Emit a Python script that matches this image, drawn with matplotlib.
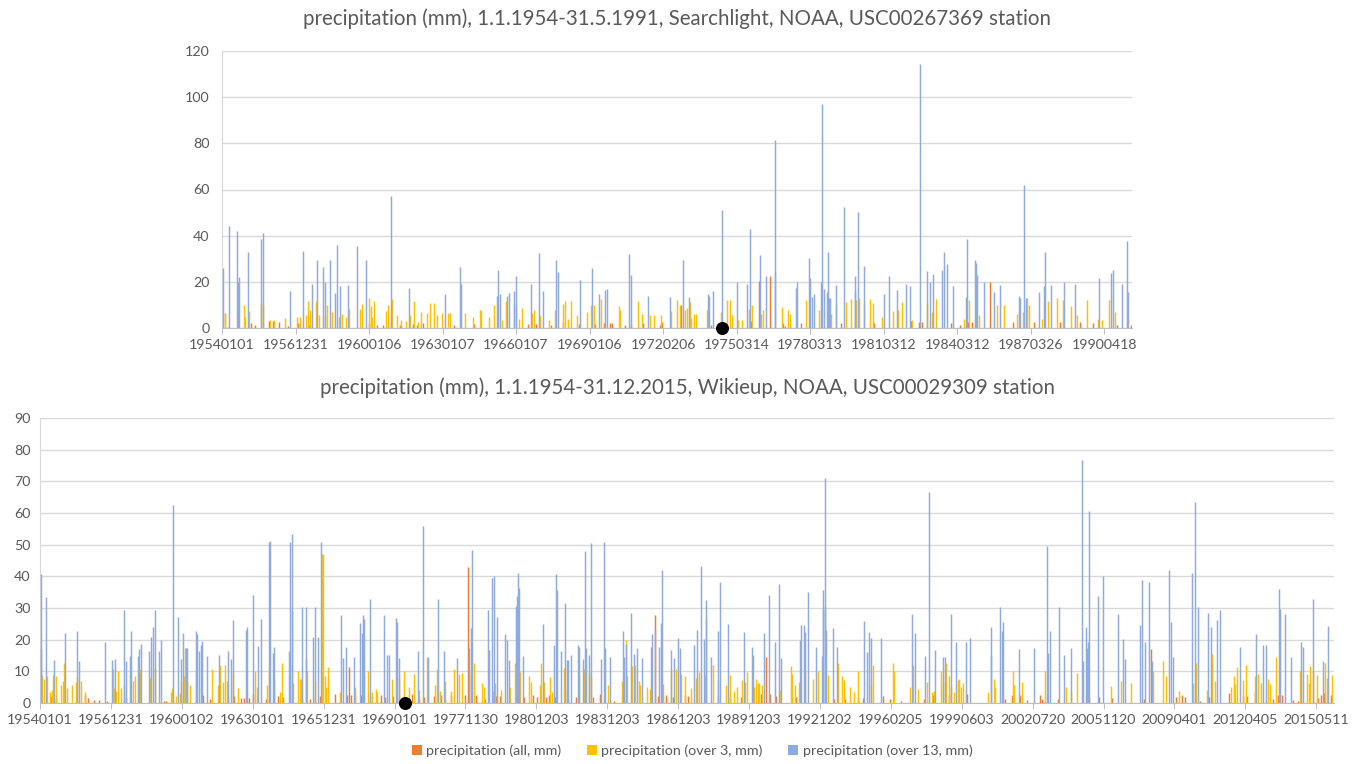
import matplotlib
matplotlib.use('Agg')
import matplotlib.pyplot as plt
from matplotlib.patches import Patch

plt.rcParams['font.family'] = ['Lato', 'DejaVu Sans']

# ---------------- data: (rainy-day index, mm) ----------------
# Searchlight (top chart)
sl_labels = ['19540101', '19561231', '19600106', '19630107', '19660107', '19690106', '19720206',
             '19750314', '19780313', '19810312', '19840312', '19870326', '19900418']
sl_n_days = 1238
sl_over13 = [(1, 26), (9, 44), (20, 42), (21, 20), (23, 22), (35, 33), (52, 38.5), (55, 41), (92, 16), (110, 33.5),
             (122, 19), (128, 29.6), (137, 26.3), (140, 20), (146, 29.6), (153, 15), (156, 36), (160, 18), (170, 18.7),
             (183, 35.4), (195, 29.6), (229, 57), (254, 17.4), (303, 14.8), (323, 26.3), (325, 19), (373, 14),
             (375, 25.3), (377, 14.8), (387, 13.8), (389, 15), (396, 16), (399, 22.7), (419, 19), (430, 32.5),
             (436, 16), (454, 29.3), (456, 24.4), (486, 21), (503, 26), (512, 14.7), (520, 16.5), (523, 17),
             (553, 32), (555, 23), (579, 14), (608, 13.4), (627, 29.3), (634, 13.4), (660, 14.8), (662, 14),
             (667, 16), (680, 51), (700, 20), (714, 19), (717, 43), (731, 31.8), (739, 22.7), (751, 81.5),
             (752, 24.4), (780, 17.4), (782, 20), (798, 30.5), (799, 21.6), (802, 13.4), (804, 14.8), (814, 20),
             (816, 97), (818, 17), (822, 15.5), (824, 32.9), (825, 13.2), (826, 13.2), (834, 18.7), (846, 52.5),
             (860, 22.7), (861, 16), (865, 50.2), (872, 26.7), (900, 14.8), (907, 22.7), (917, 16.5), (930, 19),
             (935, 18), (949, 114.4), (958, 24.6), (963, 20), (967, 23.6), (979, 25.3), (982, 32.9), (986, 27.7),
             (994, 18), (1012, 13.4), (1013, 38.5), (1023, 29.6), (1025, 28), (1027, 23), (1036, 20), (1050, 15.5),
             (1057, 18.7), (1084, 14), (1085, 13.2), (1090, 62), (1093, 13.2), (1110, 15.5), (1118, 18.4),
             (1119, 32.9), (1127, 18.7), (1145, 20), (1159, 19), (1192, 21.6), (1209, 23.7), (1212, 25.3),
             (1224, 19), (1230, 37.8), (1232, 15.5)]
sl_over3 = [(3, 6.5), (4, 6.5), (29, 10), (31, 4.6), (36, 7.2), (53, 11), (55, 9.5), (65, 3.3), (70, 3.3), (85, 4.5),
            (102, 4.6), (105, 4.7), (114, 5.8), (116, 11.5), (119, 8), (127, 11.5), (132, 5.5), (139, 5.2), (143, 10),
            (149, 6.8), (158, 4.6), (163, 6), (168, 4.9), (172, 8.2), (187, 8.2), (190, 10.5), (199, 13), (202, 9.5),
            (204, 4.9), (206, 11.6), (222, 7.2), (226, 9.8), (231, 12.6), (237, 5.5), (243, 3.6), (250, 3), (255, 5.5),
            (261, 11.5), (266, 2.7), (270, 6.9), (279, 6.3), (283, 11), (288, 11), (292, 5.5), (299, 6.5), (307, 6.5),
            (310, 6.5), (330, 6.5), (341, 4.6), (350, 8), (352, 7.6), (363, 4.7), (370, 10), (380, 3.6), (386, 11.5),
            (397, 10), (400, 10.5), (404, 4), (408, 8.6), (421, 6.5), (424, 8), (432, 5.5), (444, 3.6), (452, 8),
            (463, 10.5), (466, 11.5), (470, 4), (474, 11.5), (482, 5.8), (496, 6.9), (501, 9.8), (506, 9.8),
            (515, 12.4), (539, 9.5), (541, 8), (566, 11.6), (571, 6.2), (582, 5.8), (587, 5.8), (597, 5.5),
            (611, 7.2), (619, 12.2), (622, 10), (629, 8), (632, 8.6), (636, 11.2), (638, 4.3), (641, 6.2), (645, 6.2),
            (659, 8), (678, 6.9), (687, 12.2), (691, 12.2), (694, 5.5), (702, 3.6), (707, 3.6), (716, 8.3), (721, 10),
            (733, 6.2), (736, 7.6), (761, 9.3), (769, 8), (772, 6.2), (794, 12), (812, 8), (828, 6.2), (835, 10.3),
            (848, 11.2), (855, 12.4), (862, 12.2), (866, 13), (873, 10.5), (881, 12.4), (885, 11), (898, 4.7),
            (912, 7.2), (919, 8), (924, 11.2), (938, 3.6), (959, 10.3), (965, 6.9), (971, 12.4), (1009, 4),
            (1016, 12), (1029, 5.8), (1054, 10), (1064, 10), (1081, 6.2), (1089, 6.9), (1094, 13), (1098, 9.8),
            (1115, 3.7), (1123, 11.6), (1135, 13), (1143, 12.2), (1155, 9.5), (1162, 5.8), (1176, 12.2), (1191, 4),
            (1197, 3.3), (1206, 12.2), (1215, 6.9), (1231, 3)]
sl_all = [(8, 0.5), (39, 2.2), (45, 1.2), (64, 2.9), (69, 2.9), (77, 2.6), (89, 0.7), (103, 2.2), (118, 1.4),
          (200, 2.2), (211, 1.1), (219, 1.4), (230, 2.2), (242, 1.4), (259, 1.9), (265, 1.4), (273, 2.2), (315, 1.4),
          (343, 1.9), (416, 1.9), (427, 1.9), (448, 1.2), (464, 2.6), (485, 1.9), (507, 1.9), (520, 2.2), (527, 2.2),
          (530, 2.2), (548, 1.2), (556, 1.2), (572, 2.3), (595, 1.2), (599, 2.6), (624, 10), (665, 1.2), (720, 2.9),
          (730, 20.5), (745, 22.7), (763, 2.2), (766, 0.7), (788, 2.2), (842, 2.2), (887, 2.2), (937, 2.9),
          (948, 2.6), (952, 2.6), (992, 2.2), (1004, 1.4), (1015, 2.6), (1020, 2.6), (1044, 19.8), (1076, 2.6),
          (1105, 2.6), (1140, 2.6), (1167, 2.6), (1185, 2.2), (1217, 1.2), (1237, 1.2)]
sl_marker_day = 680

# Wikieup (bottom chart)
wk_labels = ['19540101', '19561231', '19600102', '19630101', '19651231', '19690101', '19771130', '19801203',
             '19831203', '19861203', '19891203', '19921202', '19960205', '19990603', '20020720', '20051120',
             '20090401', '20120405', '20150511']
wk_n_days = 1825
wk_over13 = [(0, 40.8), (1, 17.1), (8, 33.4), (19, 13.7), (34, 22), (51, 22.8), (54, 13.3), (91, 19.2), (101, 13.7),
             (105, 14), (117, 29.4), (120, 13.4), (126, 15), (127, 22.8), (137, 15), (139, 17.1), (142, 18.5),
             (153, 16.5), (156, 20.7), (158, 23.9), (162, 29.4), (167, 16.5), (170, 19.9), (187, 62.5), (194, 27.3),
             (198, 14), (201, 22.2), (205, 17.4), (206, 17.4), (219, 22.8), (221, 21.7), (224, 16.4), (226, 18.2),
             (228, 19.5), (235, 15), (252, 15.2), (264, 16.3), (268, 14), (271, 26.2), (290, 23.2), (291, 24),
             (299, 34), (307, 17.9), (311, 26.4), (322, 50.9), (324, 51.3), (328, 15.8), (329, 17.6), (351, 16.5),
             (352, 50.9), (354, 53.3), (355, 29.2), (369, 30.4), (374, 14.2), (375, 30.4), (384, 20.7), (387, 30.4),
             (391, 20.9), (396, 50.9), (424, 27.9), (426, 14.2), (431, 17.7), (442, 14.5), (451, 25.4), (453, 22.2),
             (455, 27.9), (456, 26.4), (465, 33), (485, 27.9), (489, 15.2), (492, 15.2), (501, 26.7), (503, 25.6),
             (505, 14.2), (533, 16.5), (540, 56), (547, 14.4), (561, 33), (569, 16.3), (588, 14.2),
             (604, 17.4), (607, 23.8), (609, 48.4), (631, 29.3), (633, 16.6), (636, 39.4), (639, 40), (644, 27.3),
             (655, 21.9), (658, 19.9), (660, 13.7), (670, 30.6), (672, 33.7), (673, 41.2), (675, 36.3), (681, 15),
             (709, 25.1), (724, 18.2), (727, 40.7), (728, 35.7), (734, 16.4), (740, 31.7), (742, 13.7), (744, 13.5),
             (748, 15.2), (758, 18.3), (760, 17.7), (765, 13.9), (768, 47.9), (769, 17.4), (773, 15.2), (776, 50.6),
             (790, 13.9), (795, 50.9), (796, 17.4), (803, 14.6), (821, 22.8), (823, 14.6), (825, 18.5), (833, 28.5),
             (837, 15.6), (841, 17.4), (848, 14.2), (861, 17.7), (863, 21.7), (867, 22.9), (872, 17.7), (875, 25.4),
             (877, 41.9), (889, 16.6), (894, 14.2), (899, 20.4), (902, 17.4), (922, 18.2), (926, 23.2), (931, 43.2),
             (936, 20.1), (938, 32.4), (939, 26.9), (946, 14.5), (955, 22.8), (958, 38.2), (970, 24.8), (992, 22.5),
             (1003, 17.6), (1005, 15.3), (1021, 22), (1027, 34), (1036, 19.2), (1042, 37.5), (1044, 14.2),
             (1071, 19.9), (1073, 24.5), (1077, 24.7), (1078, 22.5), (1082, 34.9), (1093, 17.7), (1102, 15),
             (1103, 35.7), (1104, 29.3), (1106, 30.6), (1107, 71.2), (1108, 23.2), (1117, 23.7), (1123, 17.6),
             (1162, 25.8), (1165, 16.2), (1168, 22.5), (1171, 20.4), (1186, 20.4),
             (1229, 28), (1233, 22), (1248, 14.8), (1253, 66.5), (1262, 16.6), (1273, 14.5), (1275, 14.5), (1284, 28),
             (1291, 19.3), (1305, 19.3), (1311, 20.4), (1340, 15.3), (1341, 24), (1353, 30.4), (1356, 22.6),
             (1358, 25.6), (1380, 17.1), (1401, 17.4), (1419, 49.6), (1421, 15.8), (1423, 22.7), (1437, 30.4),
             (1444, 15.2), (1453, 17.4), (1469, 76.6), (1470, 13.2), (1474, 23.9), (1476, 17.4), (1477, 19.3),
             (1478, 60.5), (1492, 33.9), (1498, 40.1), (1520, 28), (1526, 20.1), (1530, 14), (1551, 24.5), (1553, 39),
             (1557, 19.2), (1563, 38.2), (1568, 13.2), (1591, 41.9), (1595, 25.6), (1597, 14.5), (1624, 41.1),
             (1628, 63.6), (1632, 30.4), (1646, 28.5), (1651, 24), (1659, 26.1), (1664, 29.3), (1691, 17.7),
             (1714, 21.9), (1724, 18.3), (1728, 18.3), (1747, 35.9), (1748, 29.8), (1755, 28.2), (1763, 14.6),
             (1778, 19.3), (1780, 17.6), (1795, 33), (1808, 13.4), (1816, 24.3)]
wk_over3 = [(3, 9), (5, 7.6), (9, 8.5), (13, 3.5), (16, 4.2), (18, 8.7), (22, 8.5), (29, 5.8), (32, 6.9), (33, 12.7),
            (38, 4.6), (44, 5.8), (50, 6.5), (52, 8.2), (58, 7.1), (63, 3.4), (102, 10.8), (104, 4.6), (107, 3.9),
            (110, 10.2), (114, 4.6), (118, 5.8), (131, 7.1), (134, 8.5), (141, 10.8), (154, 7.8), (161, 11.1),
            (184, 3.4), (186, 4.8), (191, 2.3), (197, 3.2), (199, 7.1), (203, 8.5), (204, 17.4), (207, 7.1), (211, 5.8),
            (220, 10), (242, 10.6), (250, 5.8), (254, 12), (257, 6.5), (260, 12.1), (263, 7.1), (272, 9.5), (279, 4.6),
            (303, 10), (305, 5), (320, 5.8), (323, 10.6), (330, 7.6), (338, 3.6), (341, 12.7), (357, 6.3), (363, 10),
            (366, 7.6), (367, 7.6), (376, 10), (388, 6.9), (397, 47), (398, 47), (401, 8.5), (403, 5.1), (405, 11.4),
            (406, 7.6), (423, 3.4), (444, 5.1), (457, 8.5), (462, 10), (468, 3.5), (473, 4.4), (475, 3.4), (496, 7.6),
            (506, 8.7), (513, 10), (520, 5.1), (527, 9.3), (534, 4.2), (545, 14.6), (547, 10), (556, 5.8), (559, 10.6),
            (564, 3.9), (570, 6.9), (579, 3.7), (583, 10.6),
            (591, 9.3), (595, 9.5), (608, 8.7), (612, 12.5), (623, 6.3), (625, 5.1), (638, 3.9), (641, 6.3), (650, 4.2),
            (663, 5.1), (669, 12.7), (677, 9.7), (689, 8.5), (692, 6.7), (704, 5.6), (706, 12.7), (710, 6.5),
            (719, 8.2), (722, 3.4), (739, 11.1), (743, 4.2), (759, 9), (767, 10.6), (774, 9.5), (777, 8.5), (801, 5.8),
            (820, 6.9), (826, 19.9), (827, 8.5), (834, 11.8), (839, 11.9), (844, 6.9), (846, 5.8), (856, 5.1),
            (860, 4.4), (878, 6), (890, 10.6), (896, 10.6), (904, 9.3), (909, 8.5), (918, 4.8), (924, 7.9), (929, 9.8),
            (937, 8.7), (948, 11.9), (956, 7.4), (967, 5.8), (972, 8.8), (978, 3.7), (983, 5.1), (989, 7.4),
            (994, 6.5), (997, 9.7), (1007, 5.1), (1009, 7.6), (1012, 6.3), (1014, 6.3), (1018, 5.6), (1043, 4.2),
            (1058, 11.8), (1060, 9.3), (1065, 5.8), (1070, 6.5), (1079, 9.7), (1090, 7.6), (1097, 10.2), (1111, 8.7),
            (1125, 12.5), (1130, 8.5), (1133, 7.4), (1142, 5.1), (1148, 3.5), (1153, 10.2), (1171, 5.6), (1174, 12.1),
            (1203, 12.7), (1204, 10), (1226, 5.1), (1231, 12.1), (1238, 4.4), (1251, 6.5), (1258, 3.5), (1261, 3.7),
            (1270, 10), (1273, 7.1), (1277, 12.7), (1281, 8.5), (1284, 5.1), (1289, 3.4), (1294, 7.2), (1296, 7.6),
            (1299, 5.1), (1301, 6.3), (1336, 3.5), (1345, 7.6), (1346, 5.1), (1372, 10.2), (1373, 5.6), (1384, 6.5),
            (1417, 10.2), (1446, 5.1), (1453, 3.5), (1462, 9.5), (1510, 5.3), (1524, 7.1), (1538, 6.3), (1569, 10.2),
            (1583, 13.2), (1587, 8.5), (1606, 3.7), (1625, 6.3), (1630, 12.5), (1646, 4.2), (1652, 15.6), (1653, 15.5),
            (1657, 6.9), (1679, 5.1), (1683, 8.5), (1685, 6.1), (1688, 11.4), (1696, 7.2), (1701, 11.9), (1713, 8.5),
            (1717, 9.3), (1721, 6.3), (1732, 7.6), (1734, 6.1), (1743, 14.5), (1777, 10.2), (1787, 9.3), (1789, 6.3),
            (1791, 11.8), (1795, 10.2), (1800, 8.7), (1812, 12.7), (1815, 7.9), (1821, 9)]
wk_all = [(16, 2.3), (23, 1.3), (63, 2.6), (67, 1.6), (76, 1.1), (83, 1.1), (94, 0.5), (121, 1.6), (128, 1.1),
          (174, 0.5), (177, 0.5), (229, 2.6), (240, 1.3), (265, 2.1), (274, 2.3), (283, 1.6), (288, 1.6), (294, 1.6),
          (300, 3), (319, 1.3), (336, 2.3), (342, 1.8), (370, 1.3), (380, 1.3), (394, 2.3), (416, 3), (433, 2.4),
          (435, 11.4), (439, 2.4), (444, 2.4), (452, 2.4), (465, 2.1), (481, 2.4), (487, 1.8), (497, 2.1), (524, 2.9),
          (534, 1.4), (542, 1.8), (556, 2.1), (566, 2.6), (571, 1.4), (580, 2.6),
          (599, 2.6), (604, 43.1), (615, 2.4), (627, 1.4), (643, 2.1), (648, 2.3), (682, 1.8), (695, 2.6), (701, 1.8),
          (713, 1.8), (718, 2.4), (726, 1.8), (745, 1.1), (756, 1.8), (780, 1.8), (789, 3), (810, 0.5), (862, 1.6),
          (867, 27.8), (871, 2.3), (883, 2.6), (893, 1.8), (909, 2.6), (914, 2.1), (956, 2.1), (973, 1.8),
          (989, 1.8), (1016, 3), (1024, 14.6), (1029, 3), (1038, 2.1), (1060, 1.8), (1066, 1.8), (1119, 1.3),
          (1135, 1.3), (1154, 1.6), (1161, 1.6), (1189, 2.3), (1199, 1.3),
          (1214, 0.5), (1247, 1.3), (1259, 2.6), (1282, 2.6), (1307, 3), (1361, 1.4), (1371, 2.6), (1382, 2.4),
          (1392, 0.8), (1410, 2.4), (1413, 1.3), (1435, 1.4), (1479, 1.9), (1494, 1.9), (1511, 1.6), (1557, 1.4),
          (1566, 16.9), (1602, 1.8), (1611, 2.6), (1614, 1.8), (1636, 0.5), (1648, 1.8), (1677, 3.2), (1697, 2.1),
          (1702, 2.1), (1713, 3.2), (1739, 1.3), (1746, 2.6), (1751, 2.6), (1767, 0.8), (1774, 0.5), (1802, 1.6),
          (1806, 2.4), (1811, 3.2), (1820, 2.4)]
wk_marker_day = 514

series_names = ['precipitation (all, mm)', 'precipitation (over 3, mm)', 'precipitation (over 13, mm)']
series_colors = ['#ED7D31', '#FFC000', '#8FAADC']
days_per_label = 100

TXT = '#595959'
GRID = '#D9D9D9'

fig = plt.figure(figsize=(13.62, 7.64), dpi=100)
ax1 = fig.add_axes([222 / 1362, 1 - 328 / 764, 910 / 1362, 277 / 764])
ax2 = fig.add_axes([40 / 1362, 1 - 703 / 764, 1294 / 1362, 285 / 764])


def draw(ax, groups, n_days, ymax, ystep, labels, marker_day, ypad):
    offsets = [-0.3, 0.0, 0.3]
    for (data, color, off) in zip(groups, series_colors, offsets):
        xs = [d + 0.5 + off for d, _ in data]
        ys = [v for _, v in data]
        ax.vlines(xs, 0, ys, colors=color, linewidth=1.05, zorder=3)
    ax.set_xlim(0, n_days)
    ax.set_ylim(0, ymax)
    ax.set_yticks(range(0, ymax + 1, ystep))
    ax.set_xticks([i * days_per_label for i in range(len(labels))])
    ax.set_xticklabels(labels)
    ax.yaxis.grid(True, color=GRID, linewidth=1.0)
    ax.set_axisbelow(True)
    for s in ['top', 'right']:
        ax.spines[s].set_visible(False)
    ax.spines['left'].set_color(GRID)
    ax.spines['bottom'].set_color('#BFBFBF')
    ax.tick_params(axis='y', length=0, pad=ypad, labelsize=10.3, labelcolor=TXT)
    ax.tick_params(axis='x', length=4, width=0.8, color='#BFBFBF', pad=4, labelsize=10.2, labelcolor=TXT)
    ax.scatter([marker_day + 0.5], [0], s=70, color='black', zorder=5, clip_on=False)


draw(ax1, [sl_all, sl_over3, sl_over13], sl_n_days, 120, 20, sl_labels, sl_marker_day, 9)
draw(ax2, [wk_all, wk_over3, wk_over13], wk_n_days, 90, 10, wk_labels, wk_marker_day, 7)

fig.text(677 / 1362, 1 - 19 / 764,
         'precipitation (mm), 1.1.1954-31.5.1991, Searchlight, NOAA, USC00267369 station',
         ha='center', va='center', fontsize=14.8, color=TXT)
fig.text(688 / 1362, 1 - 388 / 764,
         'precipitation (mm), 1.1.1954-31.12.2015, Wikieup, NOAA, USC00029309 station',
         ha='center', va='center', fontsize=14.8, color=TXT)

handles = [Patch(facecolor=c, edgecolor='none') for c in series_colors]
fig.legend(handles, series_names, loc='center', bbox_to_anchor=(692 / 1362, 1 - 751 / 764), ncol=3,
           frameon=False, fontsize=10.3, handlelength=0.7, handleheight=0.7, handletextpad=0.3,
           columnspacing=1.8, labelcolor=TXT)

fig.savefig('out.png', dpi=100)
